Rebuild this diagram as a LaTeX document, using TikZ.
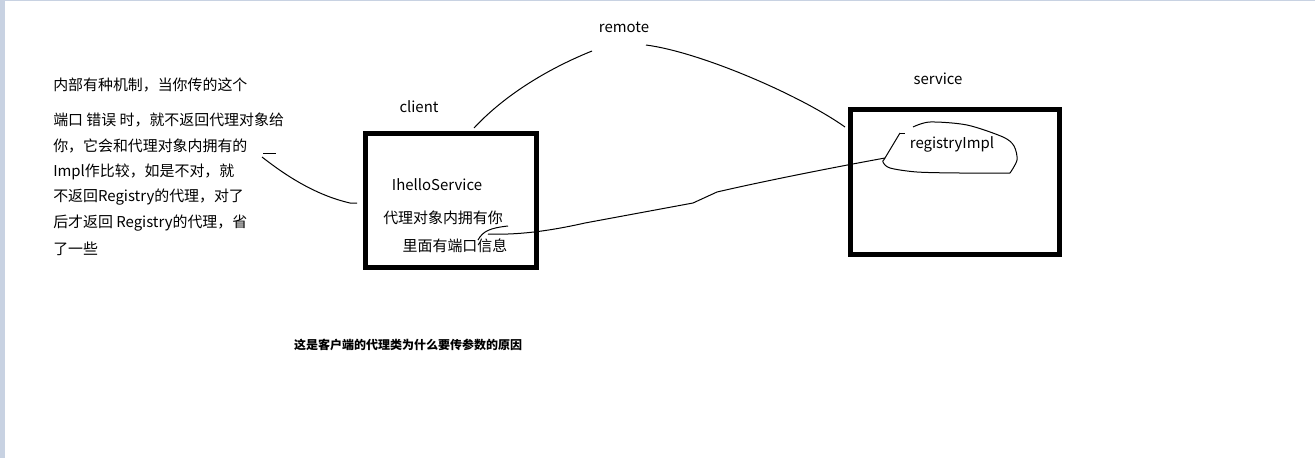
\documentclass[tikz,border=0pt]{standalone}
\usepackage{fontspec}
\setmainfont{Noto Sans CJK SC}
\definecolor{pagebar}{HTML}{C8D2E2}

\begin{document}
\begin{tikzpicture}[x=0.75pt,y=-0.75pt,
  every node/.style={font=\fontsize{11.2}{14}\selectfont,inner sep=0pt},
  box/.style={draw,line width=3.75pt},
  pen/.style={line width=0.75pt}
]
\useasboundingbox[fill=white] (0,0) rectangle (1315,458);
\fill[pagebar] (0,0) rectangle (5,458);
\fill[pagebar] (0,0) rectangle (1315,1.3);

% the two boxes
\node[box,minimum width=128pt,minimum height=100.5pt] (client) at (450.75,200) {};
\node[box,minimum width=157pt,minimum height=109pt] (service) at (955.25,182) {};

\node (clientlbl) at (419,107) {client};
\node (servicelbl) at (938,79) {service};
\node (remote) at (624,27) {remote};

\node (hello) at (437,185) {IhelloService};
\node (proxy1) at (443,218) {代理对象内拥有你};
\node (proxy2) at (455,246) {里面有端口信息};
\node (reg) at (952,144) {registryImpl};

% note on the left
\foreach \y/\txt [count=\i] in {85/内部有种机制，当你传的这个,
  120/端口 错误 时，就不返回代理对象给,
  146/你，它会和代理对象内拥有的,
  172/Impl作比较，如是不对，就,
  197/不返回Registry的代理，对了,
  223/后才返回 Registry的代理，省,
  249/了一些}
  \node[anchor=west] (note\i) at (53,\y) {\txt};

\node[font=\fontsize{9}{11}\selectfont\bfseries] (why) at (408,345) {这是客户端的代理类为什么要传参数的原因};

% hand drawn lines
\coordinate (tickA) at (263,153);
\coordinate (tickB) at (276,153);
\draw[pen] (tickA) -- (tickB);

\coordinate (noteend) at (262,157);
\coordinate (clientW) at (357,203);
\draw[pen] (noteend) .. controls (285,175) and (315,195) .. (350,203) -- (clientW);

\coordinate (clientN) at (474,128);
\coordinate (remoteL) at (592,51);
\coordinate (remoteR) at (646,45);
\coordinate (serviceW) at (845,127);
\draw[pen] (clientN) .. controls (500,100) and (540,72) .. (remoteL);
\draw[pen] (remoteR) .. controls (700,52) and (800,95) .. (serviceW);

\coordinate (hookA) at (508,226);
\coordinate (hookB) at (478,240);
\draw[pen] (hookA) .. controls (490,228) and (483,231) .. (hookB);

\coordinate (portinfo) at (488,234);
\coordinate (blobin) at (885,158);
\draw[pen] (portinfo) .. controls (515,235) and (545,232) .. (585,223) -- (693,203) -- (717,192)
  .. controls (760,182) and (830,168) .. (blobin);

% the blob round registryImpl
\draw[pen] plot[smooth,tension=0.5] coordinates {(913,127) (930,122) (967,125) (1003,137)
  (1014,146) (1017,160) (1010,173)};
\draw[pen] plot[smooth,tension=0.5] coordinates {(1010,173) (960,173) (917,172) (890,168)
  (883,162) (885,158) (900,133)};
\draw[pen] (900,133) -- (905,133);
\end{tikzpicture}
\end{document}
